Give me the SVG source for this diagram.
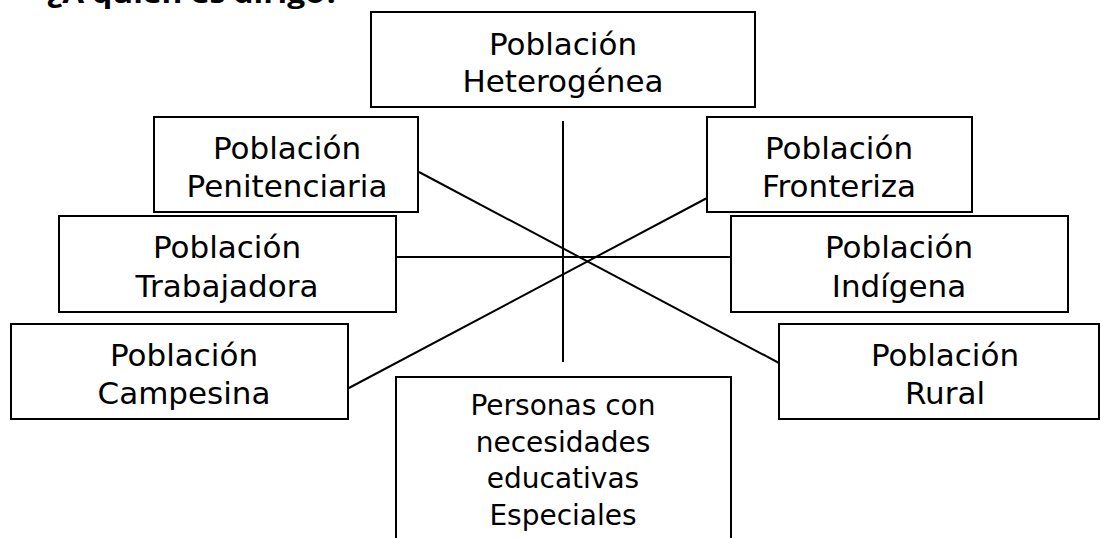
<svg xmlns="http://www.w3.org/2000/svg" width="1101" height="538" viewBox="0 0 1101 538">
<style>
.box{fill:#fff;stroke:#000;stroke-width:2}
.t{font-family:"DejaVu Sans","Liberation Sans",sans-serif;font-size:31px;fill:#000;text-anchor:middle}
.s{font-family:"DejaVu Sans","Liberation Sans",sans-serif;font-size:28px;fill:#000;text-anchor:middle}
.ln{stroke:#000;stroke-width:2;fill:none}
</style>
<rect width="1101" height="538" fill="#fff"/>
<text x="47" y="3" font-family="'Open Sans','Liberation Sans',sans-serif" font-weight="bold" font-size="27" textLength="293" lengthAdjust="spacingAndGlyphs">¿A quién es dirigo?</text>
<g id="connectors">
<line class="ln" x1="563" y1="121" x2="563" y2="362"/>
<line class="ln" x1="396" y1="257" x2="731" y2="257"/>
<line class="ln" x1="419" y1="172" x2="779" y2="363"/>
<line class="ln" x1="347" y1="389" x2="707" y2="198"/>
</g>
<g id="heterogenea"><rect class="box" x="371" y="12" width="384" height="95"/><text class="t" x="563" y="55">Población</text><text class="t" x="563" y="92">Heterogénea</text></g>
<g id="penitenciaria"><rect class="box" x="154" y="117" width="264" height="95"/><text class="t" x="287" y="159">Población</text><text class="t" x="287" y="197">Penitenciaria</text></g>
<g id="fronteriza"><rect class="box" x="707" y="117" width="265" height="95"/><text class="t" x="839" y="159">Población</text><text class="t" x="839" y="197">Fronteriza</text></g>
<g id="trabajadora"><rect class="box" x="59" y="216" width="337" height="96"/><text class="t" x="227" y="258">Población</text><text class="t" x="227" y="297">Trabajadora</text></g>
<g id="indigena"><rect class="box" x="731" y="216" width="337" height="96"/><text class="t" x="899" y="258">Población</text><text class="t" x="899" y="297">Indígena</text></g>
<g id="campesina"><rect class="box" x="11" y="324" width="337" height="95"/><text class="t" x="184" y="366">Población</text><text class="t" x="184" y="404">Campesina</text></g>
<g id="rural"><rect class="box" x="779" y="324" width="320" height="95"/><text class="t" x="945" y="366">Población</text><text class="t" x="945" y="404">Rural</text></g>
<g id="especiales"><rect class="box" x="396" y="377" width="335" height="175"/><text class="s" x="563" y="415">Personas con</text><text class="s" x="563" y="452">necesidades</text><text class="s" x="563" y="488">educativas</text><text class="s" x="563" y="525">Especiales</text></g>
</svg>
